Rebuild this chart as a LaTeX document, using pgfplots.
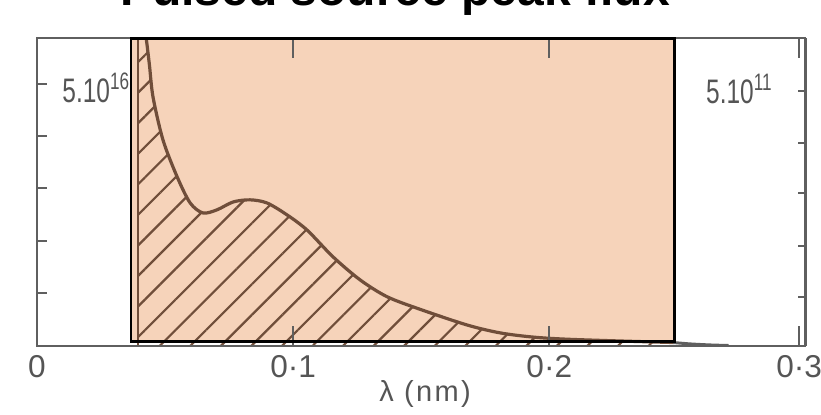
\documentclass[border=0pt]{standalone}
\usepackage{fontspec}
\setmainfont{Liberation Sans}
\newfontfamily\condfont[FakeStretch=0.72]{Liberation Sans}
\newfontfamily\labfont[LetterSpace=8]{Liberation Sans}
\usepackage{pgfplots}
\usepackage{pgfplotstable}
\pgfplotsset{compat=1.18}
\usetikzlibrary{patterns.meta}
\definecolor{peach}{RGB}{246,211,186}
\definecolor{scan}{RGB}{95,95,95}
\definecolor{txt}{RGB}{85,85,85}
\definecolor{brn}{RGB}{112,78,58}
\tikzset{hatchfill/.style={pattern={Lines[angle=45,distance=10.8pt,line width=1.1pt]}, pattern color=brn}}

\pgfplotstableread{
x y
0.0418 6.05
0.0426 5.87
0.0439 5.35
0.0453 4.74
0.0492 3.92
0.0547 3.22
0.0598 2.72
0.0648 2.53
0.0703 2.59
0.0766 2.74
0.0832 2.78
0.0898 2.72
0.0977 2.49
0.1055 2.20
0.1156 1.69
0.1262 1.25
0.1367 0.93
0.1496 0.69
0.1680 0.39
0.1809 0.24
0.1938 0.16
0.2070 0.12
0.2277 0.086
0.2484 0.057
}\curve

\begin{document}
\begin{tikzpicture}
\begin{axis}[
  at={(18.5pt,-172.75pt)}, anchor=south west,
  width=384.25pt, height=154pt, scale only axis,
  xmin=0, xmax=0.3, ymin=0, ymax=5.878,
  axis line style={scan, line width=1pt},
  tick style={scan, line width=1pt},
  tick align=inside,
  xtick={0.1,0.2}, xticklabels={0·1,0·2},
  xtick pos=both,
  xtick style={/pgfplots/major tick length=10pt},
  extra x ticks={0,0.2975}, extra x tick labels={0,0·3},
  extra x tick style={/pgfplots/major tick length=0pt},
  xticklabel style={font=\fontsize{15.8}{16}\selectfont, text=txt, anchor=north, inner sep=0pt, yshift=-4.75pt},
  ytick={1,2,3,4}, yticklabels={}, ytick pos=left,
  ytick style={/pgfplots/major tick length=5pt},
  extra y ticks={5}, extra y tick labels={},
  extra y tick style={/pgfplots/major tick length=12.5pt},
  axis on top,
]
\fill[peach] (axis cs:0.0367,0.0725) rectangle (axis cs:0.2488,5.863);
\fill[hatchfill] (axis cs:0.0395,0) rectangle (axis cs:0.0419,6.1);
\addplot[draw=none, smooth, hatchfill] table {\curve} \closedcycle;
\addplot[brn, line width=1.2pt] coordinates {(0.0395,0) (0.0395,6)};
\addplot[brn, line width=1.6pt, smooth] table {\curve};
\addplot[scan, line width=1.5pt, smooth] coordinates {(0.2484,0.057) (0.255,0.03) (0.263,0.01) (0.27,0)};
\coordinate (rA) at (axis cs:0.0367,0.0725);
\coordinate (rB) at (axis cs:0.2488,5.863);
\end{axis}
\draw[black, line width=1.25pt] (rA) rectangle (rB);
\begin{axis}[
  at={(18.5pt,-172.75pt)}, anchor=south west,
  width=384.25pt, height=154pt, scale only axis,
  xmin=0, xmax=0.3, ymin=0, ymax=5.878,
  hide x axis, axis y line*=right,
  axis line style={scan, line width=1pt},
  tick style={scan, line width=1pt},
  tick align=inside,
  ytick={0.926,1.899,2.910,3.865}, yticklabels={},
  ytick style={/pgfplots/major tick length=3.5pt},
  extra y ticks={4.857}, extra y tick labels={},
  extra y tick style={/pgfplots/major tick length=11.5pt},
]
\addplot[draw=none] coordinates {(0.1,1)};
\end{axis}
\begin{scope}[x=0.5pt,y=-0.5pt]
\node[anchor=base west, inner sep=0pt, text=txt, font=\condfont\fontsize{17}{17}\selectfont] at (62,102) {5.10\textsuperscript{16}};
\node[anchor=base east, inner sep=0pt, text=txt, font=\condfont\fontsize{17}{17}\selectfont] at (773,103) {5.10\textsuperscript{11}};
\node[anchor=base, inner sep=0pt, text=txt, font=\labfont\fontsize{14.5}{15}\selectfont] at (425,401) {λ (nm)};
\node[anchor=base, inner sep=0pt, text=black, font=\bfseries\fontsize{24}{24}\selectfont] at (395,5.5) {Pulsed source peak flux};
\end{scope}
\pgfresetboundingbox
\path[use as bounding box] (0,0) rectangle (410.5pt,-207pt);
\end{tikzpicture}
\end{document}
